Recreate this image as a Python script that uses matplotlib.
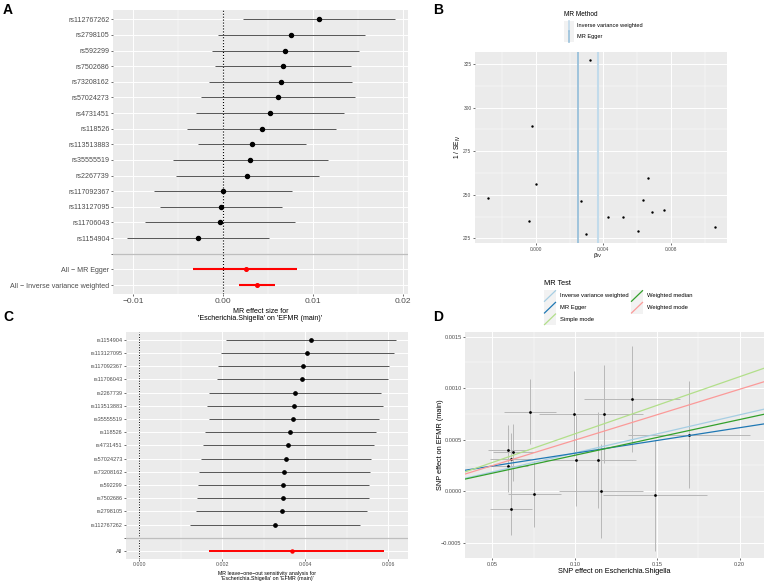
import numpy as np
import matplotlib
matplotlib.use('Agg')
import matplotlib.pyplot as plt
from matplotlib.patches import Rectangle
from matplotlib.lines import Line2D

plt.rcParams['font.family'] = ['Liberation Sans', 'DejaVu Sans']
plt.rcParams['mathtext.fontset'] = 'custom'
plt.rcParams['mathtext.rm'] = 'Liberation Sans'
plt.rcParams['mathtext.it'] = 'Liberation Sans'

W, H = 767, 587

# SNPs in the order of the single-SNP forest plot (top to bottom)
snps = ['rs112767262', 'rs2798105', 'rs592299', 'rs7502686', 'rs73208162',
        'rs57024273', 'rs4731451', 'rs118526', 'rs113513883', 'rs35555519',
        'rs2267739', 'rs117092367', 'rs113127095', 'rs11706043', 'rs1154904']
# wald ratio and 1/SE per SNP
b_iv = [0.0106, 0.00757, 0.00688, 0.00663, 0.00637, 0.00608, 0.00519, 0.00426,
        0.00322, 0.00297, 0.00266, 0.0, -0.00025, -0.00041, -0.00285]
inv_se = [231.7, 241.1, 239.8, 259.9, 246.8, 229.4, 237.5, 237.3, 327.5, 227.5,
          246.3, 256.0, 289.6, 235.2, 248.4]

# summary estimates
egger_b, egger_lo, egger_hi = 0.00248, -0.00333, 0.00822
ivw_b, ivw_lo, ivw_hi = 0.0037, 0.00171, 0.00571
egger_int = 0.000119
slope_simple_mode = 0.00555
slope_w_median = 0.00347
slope_w_mode = 0.00494

# leave-one-out (top to bottom)
loo_snps = ['rs1154904', 'rs113127095', 'rs117092367', 'rs11706043', 'rs2267739',
            'rs113513883', 'rs35555519', 'rs118526', 'rs4731451', 'rs57024273',
            'rs73208162', 'rs592299', 'rs7502686', 'rs2798105', 'rs112767262']
loo_b = [0.00413, 0.00405, 0.00394, 0.00392, 0.00374, 0.00373, 0.00371, 0.00364,
         0.00358, 0.00353, 0.00349, 0.00347, 0.00345, 0.00343, 0.00326]
loo_lo = [0.00208, 0.00197, 0.00189, 0.00188, 0.00169, 0.00163, 0.00167, 0.00159,
          0.00154, 0.00149, 0.00144, 0.00142, 0.00139, 0.00137, 0.00122]
loo_hi = [0.00618, 0.00614, 0.00601, 0.00598, 0.00581, 0.00586, 0.00577, 0.00569,
          0.00565, 0.00559, 0.00555, 0.00553, 0.00553, 0.00549, 0.00532]
loo_all = (0.00368, 0.00169, 0.0059)

# SNP effects for the scatter plot (same order as snps)
bx = [0.0730, 0.0997, 0.0595, 0.1347, 0.1179, 0.0627, 0.0611, 0.0595, 0.1695,
      0.1010, 0.1143, 0.1157, 0.1489, 0.0755, 0.0615]
by = [0.00077, 0.000751, 0.000398, 0.000893, 0.000748, 0.000375, 0.000311, 0.000246,
      0.000547, 0.000298, 0.000301, 0.0, -0.000042, -0.0000324, -0.000175]
sx = [0.0159, 0.0215, 0.0123, 0.0293, 0.0236, 0.0125, 0.0125, 0.0122, 0.0371,
      0.022, 0.0227, 0.0255, 0.0316, 0.0159, 0.0128]
sy = [0.000315, 0.000414, 0.000248, 0.000518, 0.000478, 0.000273, 0.000257, 0.000251,
      0.000518, 0.000444, 0.000464, 0.000452, 0.00054, 0.000321, 0.000248]

col_ivw, col_egger = '#a6cee3', '#1f78b4'
col_smode, col_wmed, col_wmode = '#b2df8a', '#33a02c', '#fb9a99'


def rect(l, t, r, b):
    return [l / W, 1 - b / H, (r - l) / W, (b - t) / H]


def px(x, y):
    return x / W, 1 - y / H


def gg(ax, fs):
    ax.set_facecolor('#EBEBEB')
    for s in ax.spines.values():
        s.set_visible(False)
    ax.grid(True, which='major', color='white', lw=0.7)
    ax.grid(True, which='minor', color='white', lw=0.35)
    ax.set_axisbelow(True)
    ax.tick_params(which='major', length=1.5, width=0.5, color='#333333',
                   labelsize=fs, labelcolor='#4D4D4D', pad=1)
    ax.tick_params(which='minor', length=0)


fig = plt.figure(figsize=(W / 100, H / 100), dpi=100)

# ---------- A: single SNP forest
axA = fig.add_axes(rect(113, 9.9, 408, 294.4))
gg(axA, 5.1)
n = len(snps)
yA = np.arange(n + 3)
se = 1 / np.array(inv_se)
loA = np.array(b_iv) - 1.96 * se
hiA = np.array(b_iv) + 1.96 * se
axA.axvline(0, color='black', ls=':', lw=0.8, zorder=2)
axA.axhline(n, color='#BEBEBE', lw=0.9, zorder=2)
axA.hlines(yA[:n], loA, hiA, color='#555555', lw=0.7, zorder=3)
axA.plot(b_iv, yA[:n], 'o', color='black', ms=2.9, zorder=4)
axA.hlines(yA[n + 1:], [egger_lo, ivw_lo], [egger_hi, ivw_hi], color='red', lw=1.5, zorder=3)
axA.plot([egger_b, ivw_b], yA[n + 1:], 'o', color='red', ms=2.6, zorder=4)
axA.set_yticks(yA)
axA.set_yticklabels(snps + ['', 'All \u2212 MR Egger', 'All \u2212 Inverse variance weighted'])
axA.set_ylim(n + 2 + 0.6, -0.6)
axA.set_xlim(-0.01226, 0.02052)
axA.set_xticks([-0.01, 0, 0.01, 0.02], ['\u22120.01', '0.00', '0.01', '0.02'])
axA.set_xticks([-0.005, 0.005, 0.015], minor=True)
axA.tick_params(axis='x', labelsize=6)
fig.text(260.5 / W, 1 - 308 / H, "MR effect size for\n'Escherichia.Shigella' on 'EFMR (main)'",
         ha='center', va='top', fontsize=5.1, linespacing=0.95)

# ---------- C: leave-one-out
axC = fig.add_axes(rect(126, 331.8, 408, 558.9))
gg(axC, 4.0)
m = len(loo_snps)
yC = np.arange(m + 2)
axC.axvline(0, color='black', ls=':', lw=0.7, zorder=2)
axC.axhline(m, color='#BEBEBE', lw=0.9, zorder=2)
axC.hlines(yC[:m], loo_lo, loo_hi, color='#555555', lw=0.7, zorder=3)
axC.plot(loo_b, yC[:m], 'o', color='black', ms=2.4, zorder=4)
axC.hlines(yC[m + 1], loo_all[1], loo_all[2], color='red', lw=1.4, zorder=3)
axC.plot(loo_all[0], yC[m + 1], 'o', color='red', ms=2.2, zorder=4)
axC.set_yticks(yC)
axC.set_yticklabels(loo_snps + ['', 'All'])
axC.set_ylim(m + 1 + 0.6, -0.6)
axC.set_xlim(-0.00032, 0.00647)
axC.set_xticks([0, 0.002, 0.004, 0.006], ['0.000', '0.002', '0.004', '0.006'])
axC.set_xticks([0.001, 0.003, 0.005], minor=True)
axC.tick_params(axis='x', labelsize=3.8)
fig.text(267 / W, 1 - 571.5 / H,
         "MR leave\u2212one\u2212out sensitivity analysis for\n'Escherichia.Shigella' on 'EFMR (main)'",
         ha='center', va='top', fontsize=3.8, linespacing=0.95)

# ---------- B: funnel plot
axB = fig.add_axes(rect(475, 51.7, 727.3, 243.3))
gg(axB, 3.5)
axB.axvline(ivw_b, color='#c2dbeb', lw=1.5, zorder=2)
axB.axvline(egger_b, color='#98c0db', lw=1.3, zorder=2)
axB.scatter(b_iv, inv_se, s=3, color='black', zorder=3, linewidths=0)
axB.set_xlim(-0.0036, 0.01135)
axB.set_ylim(222.1, 332.2)
axB.set_xticks([0, 0.004, 0.008], ['0.000', '0.004', '0.008'])
axB.set_xticks([-0.002, 0.002, 0.006, 0.010], minor=True)
axB.set_yticks([225, 250, 275, 300, 325])
axB.set_yticks([237.5, 262.5, 287.5, 312.5], minor=True)
fig.text(598 / W, 1 - 255 / H, r'β$_{\mathregular{IV}}$', ha='center', va='center', fontsize=4.6)
fig.text(458 / W, 1 - 147 / H, r'1 / SE$_{\mathregular{IV}}$', ha='center', va='center',
         fontsize=4.8, rotation=90)

# legend B
fig.text(*px(564, 15), 'MR Method', ha='left', va='center', fontsize=4.7)
for yc, c, lab in [(26, '#c2dbeb', 'Inverse variance weighted'), (36.7, '#98c0db', 'MR Egger')]:
    fig.add_artist(Rectangle(px(564, yc + 5.3), 10 / W, 10.6 / H, transform=fig.transFigure,
                             facecolor='#F2F2F2', edgecolor='none'))
    fig.add_artist(Line2D([569 / W, 569 / W], [1 - (yc - 5.3) / H, 1 - (yc + 5.3) / H],
                          transform=fig.transFigure, color=c, lw=1.2))
    fig.text(*px(577, yc), lab, ha='left', va='center', fontsize=4.1)

# ---------- D: scatter plot
axD = fig.add_axes(rect(465, 331.7, 764, 558.3))
gg(axD, 4.1)
axD.errorbar(bx, by, xerr=sx, yerr=sy, fmt='none', ecolor='#b8b8b8', elinewidth=0.7,
             capsize=0, zorder=2)
axD.scatter(bx, by, s=4, color='black', zorder=3, linewidths=0)
axD.axline((0, 0), slope=ivw_b, color=col_ivw, lw=0.9, zorder=4)
axD.axline((0, egger_int), slope=egger_b, color=col_egger, lw=0.9, zorder=4)
axD.axline((0, 0), slope=slope_simple_mode, color=col_smode, lw=0.9, zorder=4)
axD.axline((0, 0), slope=slope_w_median, color=col_wmed, lw=0.9, zorder=4)
axD.axline((0, 0), slope=slope_w_mode, color=col_wmode, lw=0.9, zorder=4)
axD.set_xlim(0.0334, 0.2148)
axD.set_ylim(-0.000653, 0.001547)
axD.set_xticks([0.05, 0.10, 0.15, 0.20], ['0.05', '0.10', '0.15', '0.20'])
axD.set_xticks([0.075, 0.125, 0.175], minor=True)
axD.set_yticks([-0.0005, 0, 0.0005, 0.001, 0.0015],
               ['\u22120.0005', '0.0000', '0.0005', '0.0010', '0.0015'])
axD.set_yticks([-0.00025, 0.00025, 0.00075, 0.00125], minor=True)
fig.text(614.5 / W, 1 - 571.7 / H, 'SNP effect on Escherichia.Shigella', ha='center',
         va='center', fontsize=5.3)
fig.text(440.7 / W, 1 - 445 / H, 'SNP effect on EFMR (main)', ha='center', va='center',
         fontsize=5.3, rotation=90)

# legend D
fig.text(*px(544, 283.3), 'MR Test', ha='left', va='center', fontsize=5.3)
keysD = [(544, 296, col_ivw, 'Inverse variance weighted'),
         (544, 307.7, col_egger, 'MR Egger'),
         (544, 319.3, col_smode, 'Simple mode'),
         (631, 296, col_wmed, 'Weighted median'),
         (631, 307.7, col_wmode, 'Weighted mode')]
for x0, yc, c, lab in keysD:
    fig.add_artist(Rectangle(px(x0, yc + 5.8), 12 / W, 11.6 / H, transform=fig.transFigure,
                             facecolor='#F2F2F2', edgecolor='none'))
    fig.add_artist(Line2D([(x0 + 0.5) / W, (x0 + 11.5) / W], [1 - (yc + 5.3) / H, 1 - (yc - 5.3) / H],
                          transform=fig.transFigure, color=c, lw=0.9))
    fig.text(*px(x0 + 16, yc), lab, ha='left', va='center', fontsize=4.2)

# panel letters
for lab, x, y in [('A', 3, 3), ('B', 433, 3), ('C', 3, 310), ('D', 433, 310)]:
    fig.text(*px(x, y), lab, ha='left', va='top', fontsize=10, fontweight='bold')

fig.savefig('out.png', dpi=100)
